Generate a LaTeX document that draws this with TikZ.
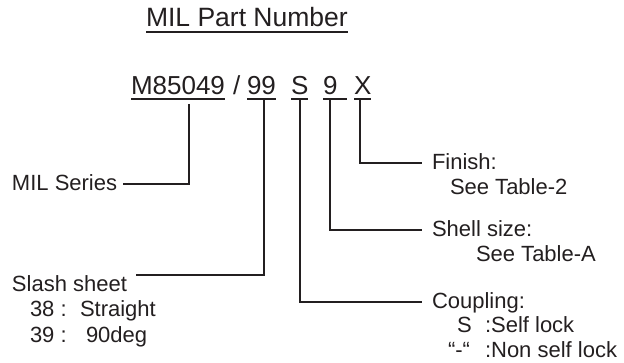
\documentclass[tikz,border=0pt]{standalone}
\usepackage{fontspec}
\setmainfont{Liberation Sans}
\definecolor{ink}{RGB}{35,31,32}
\begin{document}
\begin{tikzpicture}[x=1pt,y=-1pt,
  txt/.style={inner sep=0pt, outer sep=0pt, anchor=base west, text=ink},
  big/.style={txt, font=\fontsize{26}{30}\selectfont},
  lbl/.style={txt, font=\fontsize{22}{25}\selectfont},
  conn/.style={draw=ink, line width=1.3pt},
  uline/.style={draw=ink, line width=2pt}]
\useasboundingbox (0,0) rectangle (624,363);
% title
\node[big, font=\fontsize{26.5}{30}\selectfont] (title) at (146,27) {MIL Part Number};
\draw[uline] ([yshift=-5pt]title.base west) -- ([yshift=-5pt]title.base east);
% part number
\node[big] (pM) at (131,95) {M85049};
\node[big] (slash) at (233,95) {/};
\node[big] (p99) at (247,95) {99};
\node[big] (pS) at (291,95) {S};
\node[big] (p9) at (323,95) {9};
\node[big] (pX) at (354,95) {X};
\foreach \n in {pM,p99,pS,pX}
  \draw[uline] ([yshift=-4pt]\n.base west) -- ([yshift=-4pt]\n.base east);
\draw[uline] ([yshift=-4pt]p9.base west) -- ([xshift=10pt,yshift=-4pt]p9.base east);
% labels left
\node[lbl] (lMIL) at (12,191) {MIL Series};
\node[lbl] (lSlash) at (12,292) {Slash sheet};
\node[lbl] (l38) at (30,317) {38 :};
\node[lbl] (l38t) at (80,317) {Straight};
\node[lbl] (l39) at (30,342) {39 :};
\node[lbl] (l39t) at (86,342) {90deg};
% labels right
\node[lbl] (lFin) at (432,170) {Finish:};
\node[lbl] (lFin2) at (450,195) {See Table-2};
\node[lbl] (lShell) at (432,237) {Shell size:};
\node[lbl] (lShell2) at (476,262) {See Table-A};
\node[lbl] (lCoup) at (432,309) {Coupling:};
\node[lbl] (lCoupS) at (457,333) {S};
\node[lbl] (lCoupS2) at (485,333) {:Self lock};
\node[lbl] (lCoupN) at (448,357) {“-“};
\node[lbl] (lCoupN2) at (485,357) {:Non self lock};
% connector start points
\coordinate (cM) at (189,104);
\coordinate (c99) at (264,99);
\coordinate (cS) at (300,99);
\coordinate (c9) at (330,99);
\coordinate (cX) at (360,99);
% connectors
\draw[conn] (cM) |- ([xshift=6pt,yshift=7pt]lMIL.base east);
\draw[conn] (c99) |- ([xshift=9pt,yshift=17pt]lSlash.base east);
\draw[conn] (cS) |- ([xshift=-10pt,yshift=7pt]lCoup.base west);
\draw[conn] (c9) |- ([xshift=-10pt,yshift=7pt]lShell.base west);
\draw[conn] (cX) |- ([xshift=-10pt,yshift=7pt]lFin.base west);
\end{tikzpicture}
\end{document}
